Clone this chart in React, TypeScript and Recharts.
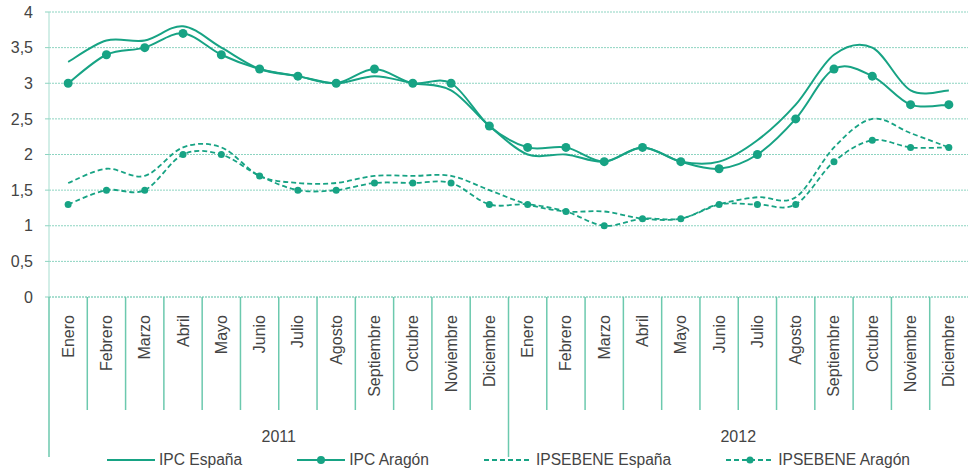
import React from 'react';
import { LineChart, Line, XAxis, YAxis, CartesianGrid, Legend } from 'recharts';

const months = ['Enero', 'Febrero', 'Marzo', 'Abril', 'Mayo', 'Junio', 'Julio', 'Agosto', 'Septiembre', 'Octubre', 'Noviembre', 'Diciembre'];
const years = ['2011', '2012'];

const ipcEspana = [3.3, 3.6, 3.6, 3.8, 3.5, 3.2, 3.1, 3.0, 3.1, 3.0, 2.9, 2.4, 2.0, 2.0, 1.9, 2.1, 1.9, 1.9, 2.2, 2.7, 3.4, 3.5, 2.9, 2.9];
const ipcAragon = [3.0, 3.4, 3.5, 3.7, 3.4, 3.2, 3.1, 3.0, 3.2, 3.0, 3.0, 2.4, 2.1, 2.1, 1.9, 2.1, 1.9, 1.8, 2.0, 2.5, 3.2, 3.1, 2.7, 2.7];
const ipsebeneEspana = [1.6, 1.8, 1.7, 2.1, 2.1, 1.7, 1.6, 1.6, 1.7, 1.7, 1.7, 1.5, 1.3, 1.2, 1.2, 1.1, 1.1, 1.3, 1.4, 1.4, 2.1, 2.5, 2.3, 2.1];
const ipsebeneAragon = [1.3, 1.5, 1.5, 2.0, 2.0, 1.7, 1.5, 1.5, 1.6, 1.6, 1.6, 1.3, 1.3, 1.2, 1.0, 1.1, 1.1, 1.3, 1.3, 1.3, 1.9, 2.2, 2.1, 2.1];
const yTicks = [0, 0.5, 1, 1.5, 2, 2.5, 3, 3.5, 4];

const data = years.flatMap((year, yi) =>
    months.map((m, mi) => {
        const i = yi * 12 + mi;
        return {
            key: `${m}-${year}`,
            month: m,
            year,
            ipcEspana: ipcEspana[i],
            ipcAragon: ipcAragon[i],
            ipsebeneEspana: ipsebeneEspana[i],
            ipsebeneAragon: ipsebeneAragon[i],
        };
    })
);

const W = 968;
const H = 475;
const LEFT = 49;
const TOP = 12;
const BAND = (W - LEFT) / data.length;
const GREEN = '#17a384';
const SEP = '#6cc9ae';
const FONT = '"Liberation Sans", Arial, sans-serif';
const TEXT = '#444';

// smooth curve like the office chart one (catmull-rom through the points)
const smoothCurve = (context: any) => {
    let pts: number[][] = [];
    return {
        areaStart() {},
        areaEnd() {},
        lineStart() { pts = []; },
        lineEnd() {
            const n = pts.length;
            if (!n) return;
            context.moveTo(pts[0][0], pts[0][1]);
            for (let i = 0; i < n - 1; i++) {
                const p0 = pts[Math.max(i - 1, 0)];
                const p1 = pts[i];
                const p2 = pts[i + 1];
                const p3 = pts[Math.min(i + 2, n - 1)];
                context.bezierCurveTo(
                    p1[0] + (p2[0] - p0[0]) / 6, p1[1] + (p2[1] - p0[1]) / 6,
                    p2[0] - (p3[0] - p1[0]) / 6, p2[1] - (p3[1] - p1[1]) / 6,
                    p2[0], p2[1]
                );
            }
        },
        point(x: number, y: number) { pts.push([+x, +y]); },
    };
};

const MonthTick = (props: any) => {
    const { x, y, index, payload } = props;
    const d = data[index];
    const sepX = x - BAND / 2;
    const yearStart = d && months.indexOf(d.month) === 0;
    return (
        <g>
            <line x1={sepX} x2={sepX} y1={y} y2={y + (yearStart ? 160 : 113)} stroke={SEP} strokeWidth={1.5} />
            <text
                x={x}
                y={y + 18}
                transform={`rotate(-90, ${x}, ${y + 18})`}
                textAnchor="end"
                dominantBaseline="central"
                fontSize={16}
                fontFamily={FONT}
                fill={TEXT}
            >
                {d ? d.month : payload.value}
            </text>
            {yearStart && (
                <text x={sepX + BAND * 6} y={y + 145} textAnchor="middle" fontSize={16} fontFamily={FONT} fill={TEXT}>
                    {d.year}
                </text>
            )}
        </g>
    );
};

const legendItems = [
    { label: 'IPC España', dash: undefined, dot: 0 },
    { label: 'IPC Aragón', dash: undefined, dot: 4 },
    { label: 'IPSEBENE España', dash: '5 3', dot: 0 },
    { label: 'IPSEBENE Aragón', dash: '5 3', dot: 3.5 },
];

const LegendContent = () => (
    <div style={{ display: 'flex', alignItems: 'center', paddingLeft: 107, gap: 55, fontFamily: FONT, fontSize: 15.6, color: TEXT }}>
        {legendItems.map(item => (
            <div key={item.label} style={{ display: 'flex', alignItems: 'center' }}>
                <svg width={48} height={12} style={{ marginRight: 4 }}>
                    <line x1={0} x2={48} y1={6} y2={6} stroke={GREEN} strokeWidth={2} strokeDasharray={item.dash} />
                    {item.dot > 0 && <circle cx={24} cy={6} r={item.dot} fill={GREEN} />}
                </svg>
                <span>{item.label}</span>
            </div>
        ))}
    </div>
);

export default function App() {
    return (
        <div style={{ position: 'absolute', left: 0, top: 0, width: W, height: H, background: '#fff' }}>
            <LineChart width={W} height={H} data={data} margin={{ top: TOP, right: 0, left: 0, bottom: 0 }}>
                <CartesianGrid vertical={false} stroke="#8dd4c1" strokeDasharray="2 1" />
                <XAxis
                    dataKey="key"
                    interval={0}
                    height={154}
                    padding={{ left: BAND / 2, right: BAND / 2 }}
                    tickSize={0}
                    tickMargin={0}
                    tickLine={false}
                    axisLine={{ stroke: '#8dd4c1', strokeDasharray: '2 1' }}
                    tick={<MonthTick />}
                />
                <YAxis
                    domain={[0, 4]}
                    ticks={yTicks}
                    width={LEFT}
                    tickSize={4}
                    tickMargin={12}
                    axisLine={{ stroke: '#a6ddcf' }}
                    tickLine={{ stroke: '#8dd4c1' }}
                    tickFormatter={(v: number) => String(v).replace('.', ',')}
                    tick={{ fontSize: 16, fontFamily: FONT, fill: TEXT }}
                />
                <Legend verticalAlign="bottom" height={24} content={<LegendContent />} wrapperStyle={{ left: 0, width: W }} />
                <Line dataKey="ipcEspana" name="IPC España" type={smoothCurve as any} stroke={GREEN} strokeWidth={2} dot={false} activeDot={false} isAnimationActive={false} />
                <Line dataKey="ipcAragon" name="IPC Aragón" type={smoothCurve as any} stroke={GREEN} strokeWidth={2} dot={{ r: 4.5, fill: GREEN, stroke: 'none' }} activeDot={false} isAnimationActive={false} />
                <Line dataKey="ipsebeneEspana" name="IPSEBENE España" type={smoothCurve as any} stroke={GREEN} strokeWidth={1.8} strokeDasharray="5 3" dot={false} activeDot={false} isAnimationActive={false} />
                <Line dataKey="ipsebeneAragon" name="IPSEBENE Aragón" type={smoothCurve as any} stroke={GREEN} strokeWidth={1.8} strokeDasharray="5 3" dot={{ r: 3.5, fill: GREEN, stroke: 'none', strokeDasharray: '' }} activeDot={false} isAnimationActive={false} />
            </LineChart>
        </div>
    );
}
